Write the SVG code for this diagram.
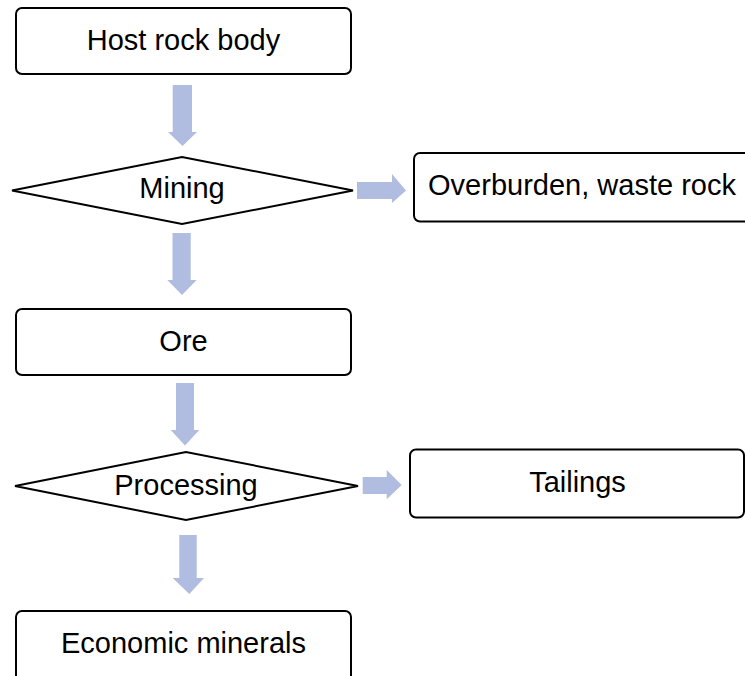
<svg xmlns="http://www.w3.org/2000/svg" width="745" height="676" viewBox="0 0 745 676">
<style>
.box{fill:#fff;stroke:#000;stroke-width:2}
.lbl{font-family:"Liberation Sans",Arial,sans-serif;font-size:29px;fill:#000;text-anchor:middle}
.arr{fill:#b0bde0}
</style>
<rect width="745" height="676" fill="#fff"/>
<g id="connectors">
<polygon class="arr" points="172.7,85 192,85 192,132 197,132 182.5,146 168,132 172.7,132"/>
<polygon class="arr" points="357,182 392,182 392,174 406,190.5 392,203 392,199 357,199"/>
<polygon class="arr" points="172.5,233 190.7,233 190.7,280 196.7,280 182,295 167.3,280 172.5,280"/>
<polygon class="arr" points="176,383 194,383 194,430 199.3,430 185,445.5 170.7,430 176,430"/>
<polygon class="arr" points="362.7,477 386.7,477 386.7,470 401.7,485 386.7,499.3 386.7,494 362.7,494"/>
<polygon class="arr" points="179.3,535 196.7,535 196.7,578 204,578 189.3,594 172.7,578 179.3,578"/>
</g>
<g id="host">
<rect class="box" x="16" y="8" width="335" height="66" rx="6"/>
<text class="lbl" x="183.5" y="50">Host rock body</text>
</g>
<g id="mining">
<polygon class="box" points="12,190.5 182,157 353,190.5 182,224"/>
<text class="lbl" x="182" y="198">Mining</text>
</g>
<g id="overburden">
<rect class="box" x="414" y="153" width="345" height="68.5" rx="6"/>
<text class="lbl" x="582" y="195">Overburden, waste rock</text>
</g>
<g id="ore">
<rect class="box" x="16" y="309" width="335" height="66" rx="6"/>
<text class="lbl" x="183.5" y="351">Ore</text>
</g>
<g id="processing">
<polygon class="box" points="15,486 186,452 358,486 186,520"/>
<text class="lbl" x="186" y="495">Processing</text>
</g>
<g id="tailings">
<rect class="box" x="410" y="449.5" width="334" height="68" rx="6"/>
<text class="lbl" x="577.5" y="491.5">Tailings</text>
</g>
<g id="economic">
<rect class="box" x="16" y="611" width="335" height="80" rx="6"/>
<text class="lbl" x="183.5" y="653">Economic minerals</text>
</g>
</svg>
